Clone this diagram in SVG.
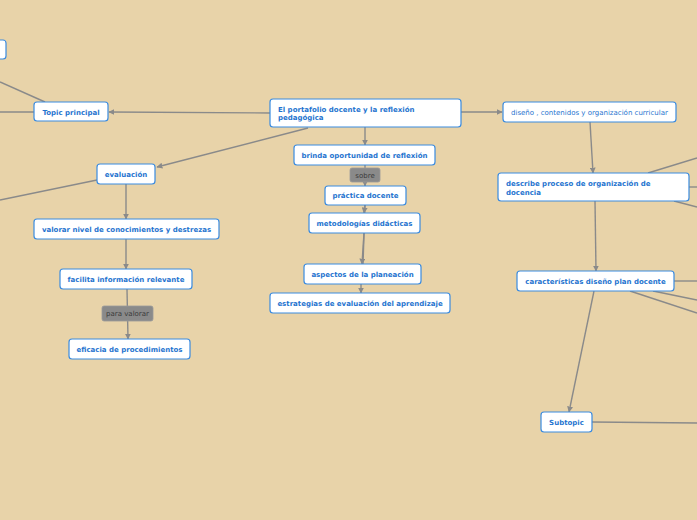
<svg xmlns="http://www.w3.org/2000/svg" width="697" height="520" viewBox="0 0 697 520">
<defs>
<style>
.n rect{fill:#fff;stroke:#3a8be0;stroke-width:1.2}
.n text{font-family:"DejaVu Sans",Verdana,sans-serif;font-size:7px;font-weight:bold;fill:#1f74cf}
.n text.m{text-anchor:middle}
.n text.r{font-weight:normal;font-size:7px}
.c line{stroke:#8a8a8a;stroke-width:1.4;fill:none}
.c line.a{marker-end:url(#ah)}
.l rect{fill:#8a8a8a;stroke:#9a9a9a;stroke-width:0.8}
.l text{font-family:"DejaVu Sans",Verdana,sans-serif;font-size:7px;fill:#3a3a3a;text-anchor:middle}
</style>
<marker id="ah" viewBox="0 0 10 10" refX="9" refY="5" markerWidth="6" markerHeight="6" markerUnits="userSpaceOnUse" orient="auto">
<path d="M0,0 L10,5 L0,10 z" fill="#8a8a8a"/>
</marker>
</defs>
<rect width="697" height="520" fill="#e8d3a9"/>
<g class="c" id="connectors">
<line x1="0" y1="82" x2="45" y2="102"/>
<line x1="0" y1="112" x2="34" y2="112"/>
<line class="a" x1="270" y1="113" x2="109" y2="112"/>
<line class="a" x1="308" y1="128" x2="157" y2="167"/>
<line x1="97" y1="180" x2="0" y2="200"/>
<line class="a" x1="126" y1="184" x2="126" y2="219"/>
<line class="a" x1="126" y1="239" x2="126" y2="269"/>
<line class="a" x1="127" y1="289" x2="128" y2="339"/>
<line class="a" x1="461" y1="112" x2="502" y2="112"/>
<line class="a" x1="365" y1="127" x2="365" y2="145"/>
<line class="a" x1="365" y1="165" x2="365" y2="186"/>
<line class="a" x1="365" y1="205" x2="364" y2="213"/>
<line class="a" x1="364" y1="233" x2="362" y2="264"/>
<line x1="365" y1="205" x2="363" y2="264"/>
<line class="a" x1="361" y1="284" x2="361" y2="293"/>
<line class="a" x1="590" y1="122" x2="593" y2="173"/>
<line x1="648" y1="173" x2="697" y2="158"/>
<line x1="689" y1="187" x2="697" y2="187"/>
<line x1="674" y1="201" x2="697" y2="207"/>
<line class="a" x1="595" y1="201" x2="596" y2="271"/>
<line x1="674" y1="281" x2="697" y2="281"/>
<line x1="653" y1="291" x2="697" y2="300"/>
<line x1="630" y1="291" x2="697" y2="313"/>
<line class="a" x1="594" y1="291" x2="569" y2="412"/>
<line x1="592" y1="422" x2="697" y2="423"/>
</g>
<g class="l" id="label-sobre"><rect x="350" y="168" width="30" height="14" rx="2"/><text x="365" y="177.5">sobre</text></g>
<g class="l" id="label-para"><rect x="102" y="306" width="51" height="15" rx="2"/><text x="127.5" y="316">para valorar</text></g>
<g class="n" id="n-topleft"><rect x="-50" y="40" width="56" height="19" rx="3"/></g>
<g class="n" id="n-topic"><rect x="34" y="102" width="74" height="19" rx="3"/><text class="m" x="71" y="114.5">Topic principal</text></g>
<g class="n" id="n-central"><rect x="270" y="99" width="191" height="28" rx="3"/><text x="278" y="111.5">El portafolio docente y la reflexión</text><text x="278" y="119.5">pedagógica</text></g>
<g class="n" id="n-evaluacion"><rect x="97" y="164" width="58" height="20" rx="3"/><text class="m" x="126" y="176.5">evaluación</text></g>
<g class="n" id="n-brinda"><rect x="294" y="145" width="141" height="20" rx="3"/><text class="m" x="364.5" y="157.5">brinda oportunidad de reflexión</text></g>
<g class="n" id="n-practica"><rect x="325" y="186" width="81" height="19" rx="3"/><text class="m" x="365.5" y="198">práctica docente</text></g>
<g class="n" id="n-metodologias"><rect x="309" y="213" width="111" height="20" rx="3"/><text class="m" x="364.5" y="225.5">metodologías didácticas</text></g>
<g class="n" id="n-aspectos"><rect x="304" y="264" width="117" height="20" rx="3"/><text class="m" x="362.5" y="276.5">aspectos de la planeación</text></g>
<g class="n" id="n-estrategias"><rect x="270" y="293" width="180" height="20" rx="3"/><text class="m" x="360" y="305.5">estrategias de evaluación del aprendizaje</text></g>
<g class="n" id="n-valorar"><rect x="34" y="219" width="185" height="20" rx="3"/><text class="m" x="126.5" y="231.5">valorar nivel de conocimientos y destrezas</text></g>
<g class="n" id="n-facilita"><rect x="60" y="269" width="132" height="20" rx="3"/><text class="m" x="126" y="281.5">facilita información relevante</text></g>
<g class="n" id="n-eficacia"><rect x="69" y="339" width="121" height="20" rx="3"/><text class="m" x="129.5" y="351.5">eficacia de procedimientos</text></g>
<g class="n" id="n-diseno"><rect x="503" y="102" width="173" height="20" rx="3"/><text class="r" x="511" y="114.5">diseño , contenidos y organización curricular</text></g>
<g class="n" id="n-describe"><rect x="498" y="173" width="191" height="28" rx="3"/><text x="506" y="185.5">describe proceso de organización de</text><text x="506" y="194.5">docencia</text></g>
<g class="n" id="n-caracteristicas"><rect x="517" y="271" width="157" height="20" rx="3"/><text class="m" x="595.5" y="283.5">características diseño  plan docente</text></g>
<g class="n" id="n-subtopic"><rect x="541" y="412" width="51" height="20" rx="3"/><text class="m" x="566.5" y="424.5">Subtopic</text></g>
</svg>
